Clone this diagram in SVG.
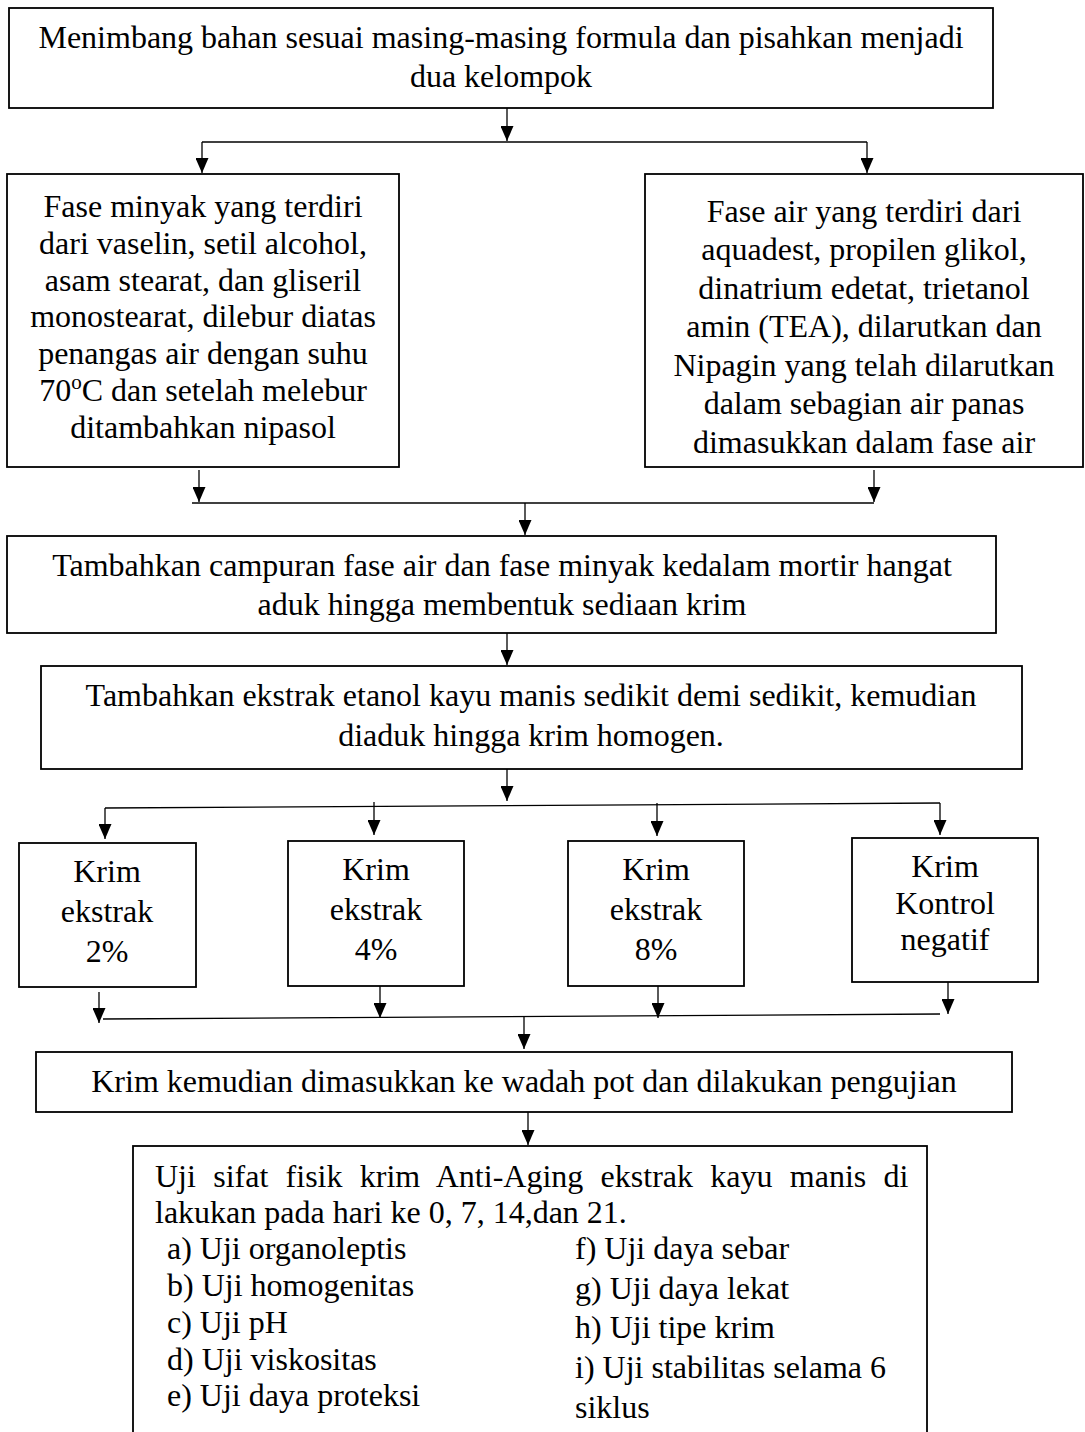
<svg xmlns="http://www.w3.org/2000/svg" width="1085" height="1432" viewBox="0 0 1085 1432">
<style>
  .box { fill: #ffffff; stroke: #000000; stroke-width: 1.8; }
  .t { font-family: "Liberation Serif", "Times New Roman", serif; font-size: 32px; fill: #000000; }
  .c { text-anchor: middle; }
  .ln { stroke: #000000; stroke-width: 1.3; fill: none; }
  .ar { stroke: #000000; stroke-width: 1.3; fill: none; marker-end: url(#ah); }
</style>
<defs>
  <marker id="ah" markerUnits="userSpaceOnUse" markerWidth="15" markerHeight="13" refX="15" refY="6.5" orient="auto" viewBox="0 0 15 13">
    <path d="M0,0 L15,6.5 L0,13 Z" fill="#000000"/>
  </marker>
</defs>
<rect width="1085" height="1432" fill="#ffffff"/>

<g id="connectors">
  <line class="ar" x1="507" y1="108" x2="507" y2="141"/>
  <line class="ln" x1="202" y1="142" x2="867" y2="142"/>
  <line class="ar" x1="202" y1="142" x2="202" y2="173"/>
  <line class="ar" x1="867" y1="142" x2="867" y2="173"/>

  <line class="ar" x1="199" y1="470" x2="199" y2="502"/>
  <line class="ar" x1="874" y1="470" x2="874" y2="502"/>
  <line class="ln" x1="192" y1="503" x2="874" y2="503"/>
  <line class="ar" x1="525" y1="503" x2="525" y2="535"/>

  <line class="ar" x1="507" y1="633" x2="507" y2="665"/>

  <line class="ar" x1="507" y1="769" x2="507" y2="801"/>
  <line class="ln" x1="105" y1="808" x2="940" y2="803"/>
  <line class="ar" x1="105" y1="808" x2="105" y2="839"/>
  <line class="ar" x1="374" y1="802" x2="374" y2="835"/>
  <line class="ar" x1="657" y1="803" x2="657" y2="836"/>
  <line class="ar" x1="940" y1="803" x2="940" y2="835"/>

  <line class="ar" x1="99" y1="992" x2="99" y2="1023"/>
  <line class="ar" x1="380" y1="986" x2="380" y2="1018"/>
  <line class="ar" x1="658" y1="986" x2="658" y2="1018"/>
  <line class="ar" x1="948" y1="982" x2="948" y2="1014"/>
  <line class="ln" x1="103" y1="1019" x2="940" y2="1014"/>
  <line class="ar" x1="524" y1="1017" x2="524" y2="1049"/>

  <line class="ar" x1="528" y1="1112" x2="528" y2="1145"/>
</g>

<g id="node-timbang">
  <rect class="box" x="9" y="8" width="984" height="100"/>
  <text class="t c" x="501" y="48">Menimbang bahan sesuai masing-masing formula dan pisahkan menjadi</text>
  <text class="t c" x="501" y="87">dua kelompok</text>
</g>

<g id="node-fase-minyak">
  <rect class="box" x="7" y="174" width="392" height="293"/>
  <text class="t c" x="203" y="217">Fase minyak yang terdiri</text>
  <text class="t c" x="203" y="254">dari vaselin, setil alcohol,</text>
  <text class="t c" x="203" y="291">asam stearat, dan gliseril</text>
  <text class="t c" x="203" y="327">monostearat, dilebur diatas</text>
  <text class="t c" x="203" y="364">penangas air dengan suhu</text>
  <text class="t c" x="203" y="401">70<tspan font-size="21" dy="-12">o</tspan><tspan dy="12">C dan setelah melebur</tspan></text>
  <text class="t c" x="203" y="438">ditambahkan nipasol</text>
</g>

<g id="node-fase-air">
  <rect class="box" x="645" y="174" width="438" height="293"/>
  <text class="t c" x="864" y="222">Fase air yang terdiri dari</text>
  <text class="t c" x="864" y="260">aquadest, propilen glikol,</text>
  <text class="t c" x="864" y="299">dinatrium edetat, trietanol</text>
  <text class="t c" x="864" y="337">amin (TEA), dilarutkan dan</text>
  <text class="t c" x="864" y="376">Nipagin yang telah dilarutkan</text>
  <text class="t c" x="864" y="414">dalam sebagian air panas</text>
  <text class="t c" x="864" y="453">dimasukkan dalam fase air</text>
</g>

<g id="node-campuran">
  <rect class="box" x="7" y="536" width="989" height="97"/>
  <text class="t c" x="502" y="576">Tambahkan campuran fase air dan fase minyak kedalam mortir hangat</text>
  <text class="t c" x="502" y="615">aduk hingga membentuk sediaan krim</text>
</g>

<g id="node-ekstrak">
  <rect class="box" x="41" y="666" width="981" height="103"/>
  <text class="t c" x="531" y="706">Tambahkan ekstrak etanol kayu manis sedikit demi sedikit, kemudian</text>
  <text class="t c" x="531" y="746">diaduk hingga krim homogen.</text>
</g>

<g id="node-krim-2">
  <rect class="box" x="19" y="843" width="177" height="144"/>
  <text class="t c" x="107" y="882">Krim</text>
  <text class="t c" x="107" y="922">ekstrak</text>
  <text class="t c" x="107" y="962">2%</text>
</g>

<g id="node-krim-4">
  <rect class="box" x="288" y="841" width="176" height="145"/>
  <text class="t c" x="376" y="880">Krim</text>
  <text class="t c" x="376" y="920">ekstrak</text>
  <text class="t c" x="376" y="960">4%</text>
</g>

<g id="node-krim-8">
  <rect class="box" x="568" y="841" width="176" height="145"/>
  <text class="t c" x="656" y="880">Krim</text>
  <text class="t c" x="656" y="920">ekstrak</text>
  <text class="t c" x="656" y="960">8%</text>
</g>

<g id="node-krim-kontrol">
  <rect class="box" x="852" y="838" width="186" height="144"/>
  <text class="t c" x="945" y="877">Krim</text>
  <text class="t c" x="945" y="914">Kontrol</text>
  <text class="t c" x="945" y="950">negatif</text>
</g>

<g id="node-wadah">
  <rect class="box" x="36" y="1052" width="976" height="60"/>
  <text class="t c" x="524" y="1092">Krim kemudian dimasukkan ke wadah pot dan dilakukan pengujian</text>
</g>

<g id="node-uji">
  <rect class="box" x="133" y="1146" width="794" height="300"/>
  <text class="t" x="155" y="1187" word-spacing="9.3">Uji sifat fisik krim Anti-Aging ekstrak kayu manis di</text>
  <text class="t" x="155" y="1223">lakukan pada hari ke 0, 7, 14,dan 21.</text>
  <text class="t" x="167" y="1259">a) Uji organoleptis</text>
  <text class="t" x="167" y="1296">b) Uji homogenitas</text>
  <text class="t" x="167" y="1333">c) Uji pH</text>
  <text class="t" x="167" y="1370">d) Uji viskositas</text>
  <text class="t" x="167" y="1406">e) Uji daya proteksi</text>
  <text class="t" x="575" y="1259">f) Uji daya sebar</text>
  <text class="t" x="575" y="1299">g) Uji daya lekat</text>
  <text class="t" x="575" y="1338">h) Uji tipe krim</text>
  <text class="t" x="575" y="1378">i) Uji stabilitas selama 6</text>
  <text class="t" x="575" y="1418">siklus</text>
</g>
</svg>
